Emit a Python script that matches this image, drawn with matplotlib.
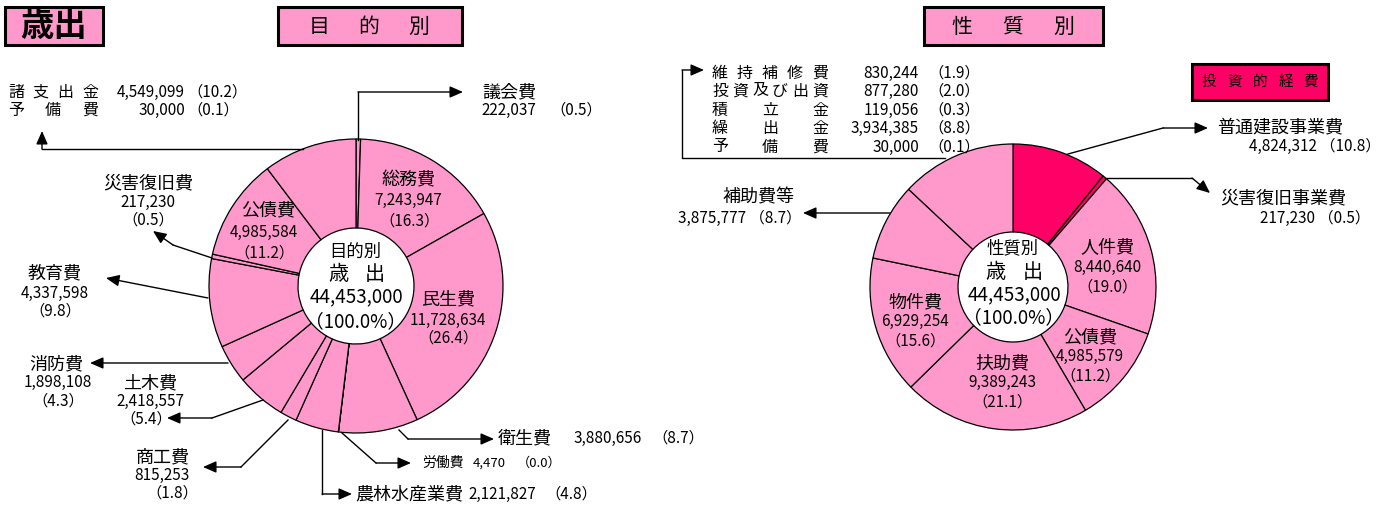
import numpy as np
import matplotlib.pyplot as plt
from matplotlib.patches import Rectangle

plt.rcParams['font.family'] = ['Noto Sans CJK JP', 'DejaVu Sans']

W, H = 1393, 509
PINK = '#FF99CC'
DEEP = '#FF0066'

# 目的別 (clockwise from top)
purpose_names = ['議会費', '総務費', '民生費', '衛生費', '労働費', '農林水産業費', '商工費',
                 '土木費', '消防費', '教育費', '災害復旧費', '公債費', '諸支出金・予備費']
purpose_values = [222037, 7243947, 11728634, 3880656, 4470, 2121827, 815253,
                  2418557, 1898108, 4337598, 217230, 4985584, 4579099]
purpose_pct = [0.5, 16.3, 26.4, 8.7, 0.0, 4.8, 1.8, 5.4, 4.3, 9.8, 0.5, 11.2, 10.3]

# 性質別 (clockwise from top)
nature_names = ['普通建設事業費', '災害復旧事業費', '人件費', '公債費', '扶助費',
                '物件費', '補助費等', 'その他']
nature_values = [4824312, 217230, 8440640, 4985579, 9389243, 6929254, 3875777, 5790965]
nature_pct = [10.8, 0.5, 19.0, 11.2, 21.1, 15.6, 8.7, 13.1]
nature_colors = [DEEP, DEEP] + [PINK] * 6

# breakdown of the grouped slices
misc_names = ['諸支出金', '予備費']
misc_values = [4549099, 30000]
misc_pct = [10.2, 0.1]

other_names = ['維持補修費', '投資及び出資', '積立金', '繰出金', '予備費']
other_values = [830244, 877280, 119056, 3934385, 30000]
other_pct = [1.9, 2.0, 0.3, 8.8, 0.1]

total = 44453000

KJ = 13     # kanji label size
NM = 11     # number size


def num(v):
    return f'{v:,}'


def pct(p):
    return f'（{p:.1f}）'


fig = plt.figure(figsize=(W / 100, H / 100), dpi=100)
ax = fig.add_axes([0, 0, 1, 1])

# y axis runs downward (pixel-like), so counterclock=True draws clockwise
wp = dict(width=89, edgecolor='black', linewidth=0.9)
ax.pie(purpose_values, center=(356, 286), radius=147, startangle=-90,
       counterclock=True, colors=[PINK] * len(purpose_values), wedgeprops=wp)
wp = dict(width=88, edgecolor='black', linewidth=0.9)
ax.pie(nature_values, center=(1013, 287), radius=143, startangle=-90,
       counterclock=True, colors=nature_colors, wedgeprops=wp)

ax.set_xlim(0, W)
ax.set_ylim(H, 0)
ax.set_aspect('equal')
ax.axis('off')


def txt(x, y, s, size=NM, ha='center', **kw):
    ax.text(x, y, s, fontsize=size, ha=ha, va='center', **kw)


def spread(s, x0, x1, y, size=11.5, **kw):
    # evenly distributed characters, like Excel's distributed alignment
    for ch, x in zip(s, np.linspace(x0, x1, len(s))):
        ax.text(x, y, ch, fontsize=size, ha='center', va='center', **kw)


def leader(pts):
    xs = [p[0] for p in pts[:-1]]
    ys = [p[1] for p in pts[:-1]]
    if len(xs) > 1:
        ax.plot(xs, ys, color='black', lw=1.0)
    ax.annotate('', xy=pts[-1], xytext=pts[-2],
                arrowprops=dict(arrowstyle='-|>,head_length=0.8,head_width=0.35',
                                color='black', lw=1.0, shrinkA=0, shrinkB=0))


def box(x0, y0, x1, y1, color):
    ax.add_patch(Rectangle((x0, y0), x1 - x0, y1 - y0, facecolor=color,
                           edgecolor='black', lw=2.2))


# title boxes
box(5, 7, 103, 45, PINK)
txt(54, 26, '歳出', size=24, fontweight='bold')
box(278, 7, 462, 45, PINK)
spread('目的別', 319, 419, 27, size=15)
box(924, 7, 1103, 45, PINK)
spread('性質別', 962, 1064, 27, size=15)
box(1192, 64, 1328, 100, DEEP)
spread('投資的経費', 1209, 1311, 82, size=10.5)

# ---- 目的別 ----
txt(355, 252, '目的別', size=12.5)
spread('歳出', 338, 375, 274, size=14.5)
txt(356, 297, num(total), size=13.5)
txt(356, 322, '（100.0%）', size=13.5)

txt(408, 180, purpose_names[1], size=KJ)
txt(408, 200, num(purpose_values[1]))
txt(410, 221, pct(purpose_pct[1]))

txt(448, 299, purpose_names[2], size=KJ)
txt(448, 320, num(purpose_values[2]))
txt(448, 338, pct(purpose_pct[2]))

txt(268, 210, purpose_names[11], size=KJ)
txt(264, 232, num(purpose_values[11]))
txt(264, 253, pct(purpose_pct[11]))

# 議会費
leader([(358, 140), (358, 92), (463, 92)])
txt(482, 92, purpose_names[0], size=KJ, ha='left')
txt(481, 110, num(purpose_values[0]), ha='left')
txt(550, 110, pct(purpose_pct[0]), ha='left')

# 諸支出金・予備費
leader([(303, 149), (42, 149), (42, 131)])
spread(misc_names[0], 16, 90, 92)
spread(misc_names[1], 16, 90, 110)
for i, y in enumerate([92, 110]):
    txt(185, y, num(misc_values[i]), ha='right')
    txt(187, y, pct(misc_pct[i]), ha='left')

# 災害復旧費
leader([(212, 258), (173, 245), (153, 231)])
txt(148, 183, purpose_names[10], size=KJ)
txt(148, 202, num(purpose_values[10]))
txt(148, 220, pct(purpose_pct[10]))

# 教育費
leader([(208, 298), (106, 278)])
txt(55, 273, purpose_names[9], size=KJ)
txt(55, 293, num(purpose_values[9]))
txt(55, 311, pct(purpose_pct[9]))

# 消防費
leader([(228, 363), (90, 363)])
txt(56, 364, purpose_names[8], size=KJ)
txt(58, 382, num(purpose_values[8]))
txt(58, 401, pct(purpose_pct[8]))

# 土木費
leader([(263, 400), (212, 418), (167, 418)])
txt(150, 383, purpose_names[7], size=KJ)
txt(150, 401, num(purpose_values[7]))
txt(146, 419, pct(purpose_pct[7]))

# 商工費
leader([(288, 420), (241, 467), (203, 467)])
txt(163, 457, purpose_names[6], size=KJ)
txt(162, 475, num(purpose_values[6]))
txt(172, 493, pct(purpose_pct[6]))

# 農林水産業費
leader([(322, 430), (322, 494), (352, 494)])
txt(355, 494, purpose_names[5], size=KJ, ha='left')
txt(468, 494, num(purpose_values[5]), ha='left')
txt(545, 494, pct(purpose_pct[5]), ha='left')

# 労働費
leader([(342, 433), (376, 463), (411, 463)])
txt(422, 463, purpose_names[4], size=10, ha='left')
txt(473, 463, num(purpose_values[4]), size=9.5, ha='left')
txt(517, 463, pct(purpose_pct[4]), size=9.5, ha='left')

# 衛生費
leader([(399, 430), (408, 439), (494, 439)])
txt(498, 438, purpose_names[3], size=KJ, ha='left')
txt(574, 438, num(purpose_values[3]), ha='left')
txt(652, 438, pct(purpose_pct[3]), ha='left')

# ---- 性質別 ----
txt(1013, 248, '性質別', size=12.5)
spread('歳出', 995, 1033, 273, size=14.5)
txt(1014, 295, num(total), size=13.5)
txt(1014, 318, '（100.0%）', size=13.5)

inner = {2: (1107, 248), 3: (1090, 337), 4: (1002, 363), 5: (915, 302)}
for i, (x, y) in inner.items():
    txt(x, y, nature_names[i], size=KJ)
    txt(x, y + 19, num(nature_values[i]))
    txt(x, y + 39, pct(nature_pct[i]))

# 普通建設事業費
leader([(1068, 154), (1163, 128), (1208, 128)])
txt(1217, 127, nature_names[0], ha='left', size=KJ)
txt(1381, 146, num(nature_values[0]) + ' ' + pct(nature_pct[0]), ha='right')

# 災害復旧事業費
leader([(1105, 178), (1192, 178), (1210, 193)])
txt(1220, 198, nature_names[1], ha='left', size=KJ)
txt(1370, 218, num(nature_values[1]) + ' ' + pct(nature_pct[1]), ha='right')

# 補助費等
leader([(890, 213), (803, 213)])
txt(722, 197, nature_names[6], ha='left', size=KJ)
txt(801, 218, num(nature_values[6]) + ' ' + pct(nature_pct[6]), ha='right')

# その他の内訳
leader([(945, 158), (682, 158), (682, 70), (704, 70)])
for i, y in enumerate([73, 91, 110, 128, 147]):
    spread(other_names[i], 720, 820, y)
    txt(919, y, num(other_values[i]), ha='right')
    txt(928, y, pct(other_pct[i]), ha='left')

plt.savefig('out.png', dpi=100)
